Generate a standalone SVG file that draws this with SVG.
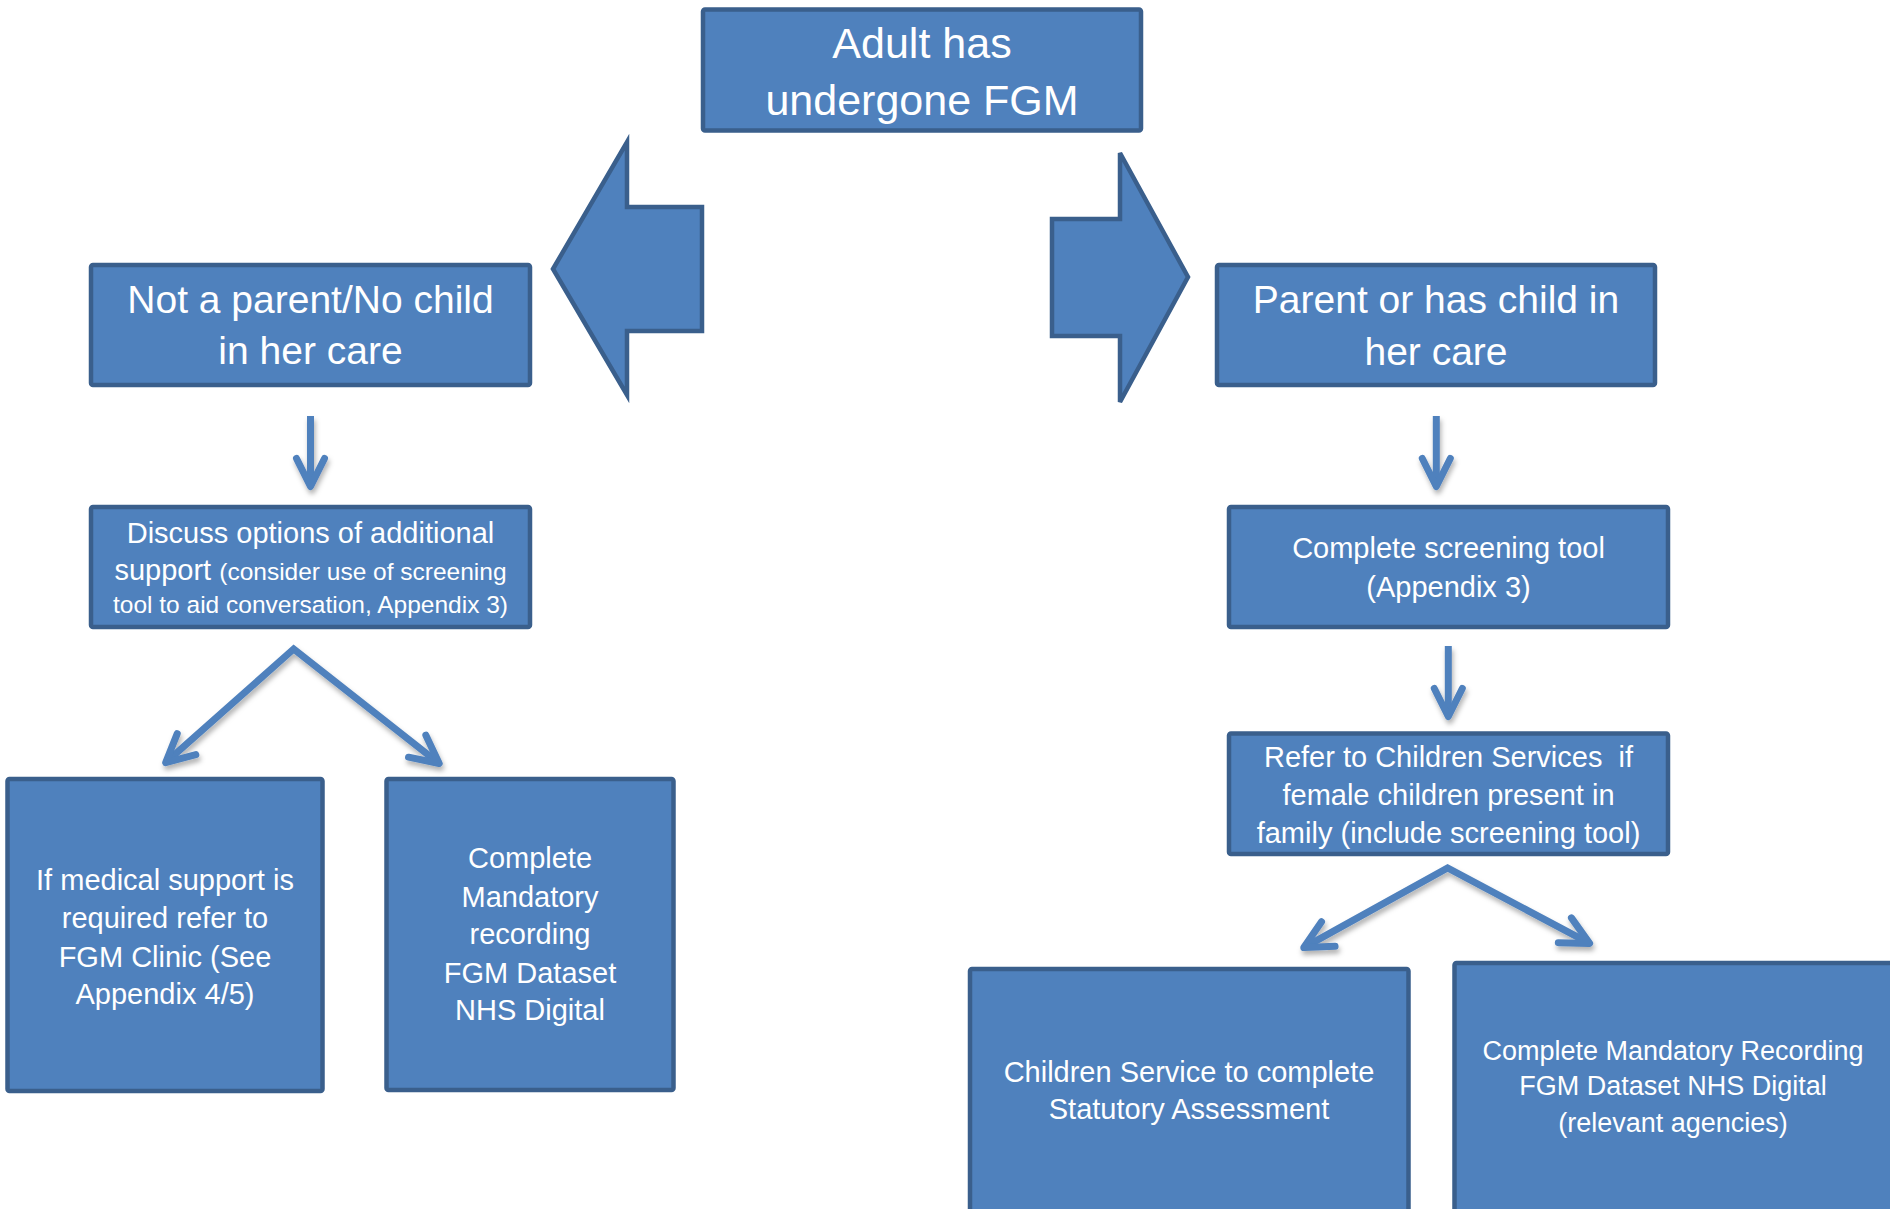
<svg xmlns="http://www.w3.org/2000/svg" width="1890" height="1209" viewBox="0 0 1890 1209">
<style>
.box{fill:#4F81BD;stroke:#3A5F8C;stroke-width:4.5}
.blk{fill:#4F81BD;stroke:#3A5F8C;stroke-width:4.5;stroke-linejoin:miter}
.ln{fill:none;stroke:#4F81BD;stroke-width:7;stroke-linejoin:miter}
text{font-family:"Liberation Sans",Arial,sans-serif;fill:#FFFFFF;text-anchor:middle}
.t43{font-size:43px}
.t39{font-size:39px}
.t29{font-size:29px}
.t27{font-size:27px}
.t24{font-size:24.5px}
</style>
<defs>
<marker id="chev" markerUnits="userSpaceOnUse" viewBox="-40 -24 48 48" refX="0" refY="0" markerWidth="48" markerHeight="48" orient="auto-start-reverse" overflow="visible">
<path d="M-28,-14 L0,0 L-28,14" fill="none" stroke="#4F81BD" stroke-width="7" stroke-linecap="round" stroke-linejoin="round"/>
</marker>
<filter id="sh" x="-20%" y="-20%" width="140%" height="140%">
<feDropShadow dx="1.5" dy="4" stdDeviation="2.5" flood-color="#000" flood-opacity="0.3"/>
</filter>
</defs>

<g id="connectors">
<polygon class="blk" points="553,269 627,142 627,207 702,207 702,331 627,331 627,395"/>
<polygon class="blk" points="1052,219 1120,219 1120,153 1188,277 1120,402 1120,336 1052,336"/>
<g filter="url(#sh)">
<path class="ln" d="M310.5,416 L310.5,486.5" marker-end="url(#chev)"/>
<path class="ln" d="M1436.3,416 L1436.3,486.5" marker-end="url(#chev)"/>
<path class="ln" d="M1448.3,646 L1448.3,716.5" marker-end="url(#chev)"/>
<path class="ln" d="M165.6,762.7 L293.7,649 L439.2,763.5" marker-start="url(#chev)" marker-end="url(#chev)"/>
<path class="ln" d="M1303.8,947.6 L1447.6,868 L1589.6,943.4" marker-start="url(#chev)" marker-end="url(#chev)"/>
</g>
</g>

<g id="n-top">
<rect class="box" x="703" y="9.5" width="438" height="121" rx="2"/>
<text class="t43" x="922" y="58">Adult has</text>
<text class="t43" x="922" y="115">undergone FGM</text>
</g>

<g id="n-notparent">
<rect class="box" x="91" y="265" width="439" height="120" rx="2"/>
<text class="t39" x="310.5" y="313">Not a parent/No child</text>
<text class="t39" x="310.5" y="364">in her care</text>
</g>

<g id="n-parent">
<rect class="box" x="1217" y="265" width="438" height="120" rx="2"/>
<text class="t39" x="1436" y="313">Parent or has child in</text>
<text class="t39" x="1436" y="365">her care</text>
</g>

<g id="n-discuss">
<rect class="box" x="91" y="507" width="439" height="120" rx="2"/>
<text class="t29" x="310.5" y="542.5">Discuss options of additional</text>
<text x="310.5" y="580"><tspan class="t29">support </tspan><tspan class="t24">(consider use of screening</tspan></text>
<text class="t24" x="310.5" y="613">tool to aid conversation, Appendix 3)</text>
</g>

<g id="n-screening">
<rect class="box" x="1229" y="507" width="439" height="120" rx="2"/>
<text class="t29" x="1448.5" y="558">Complete screening tool</text>
<text class="t29" x="1448.5" y="596.5">(Appendix 3)</text>
</g>

<g id="n-refer">
<rect class="box" x="1229" y="733.5" width="439" height="120.5" rx="2"/>
<text class="t29" x="1448.5" y="766.5" xml:space="preserve">Refer to Children Services  if</text>
<text class="t29" x="1448.5" y="805">female children present in</text>
<text class="t29" x="1448.5" y="842.5">family (include screening tool)</text>
</g>

<g id="n-medical">
<rect class="box" x="7.5" y="779" width="315" height="312" rx="2"/>
<text class="t29" x="165" y="890">If medical support is</text>
<text class="t29" x="165" y="928">required refer to</text>
<text class="t29" x="165" y="966.5">FGM Clinic (See</text>
<text class="t29" x="165" y="1003.5">Appendix 4/5)</text>
</g>

<g id="n-mandatory">
<rect class="box" x="386.5" y="779" width="287" height="311" rx="2"/>
<text class="t29" x="530" y="868">Complete</text>
<text class="t29" x="530" y="906.5">Mandatory</text>
<text class="t29" x="530" y="943.5">recording</text>
<text class="t29" x="530" y="982.5">FGM Dataset</text>
<text class="t29" x="530" y="1020">NHS Digital</text>
</g>

<g id="n-statutory">
<rect class="box" x="970" y="969" width="438.5" height="260" rx="2"/>
<text class="t29" x="1189" y="1081.5">Children Service to complete</text>
<text class="t29" x="1189" y="1119">Statutory Assessment</text>
</g>

<g id="n-recording">
<rect class="box" x="1454.5" y="963" width="450" height="266" rx="2"/>
<text class="t27" x="1673" y="1060">Complete Mandatory Recording</text>
<text class="t27" x="1673" y="1095">FGM Dataset NHS Digital</text>
<text class="t27" x="1673" y="1131.5">(relevant agencies)</text>
</g>
</svg>
